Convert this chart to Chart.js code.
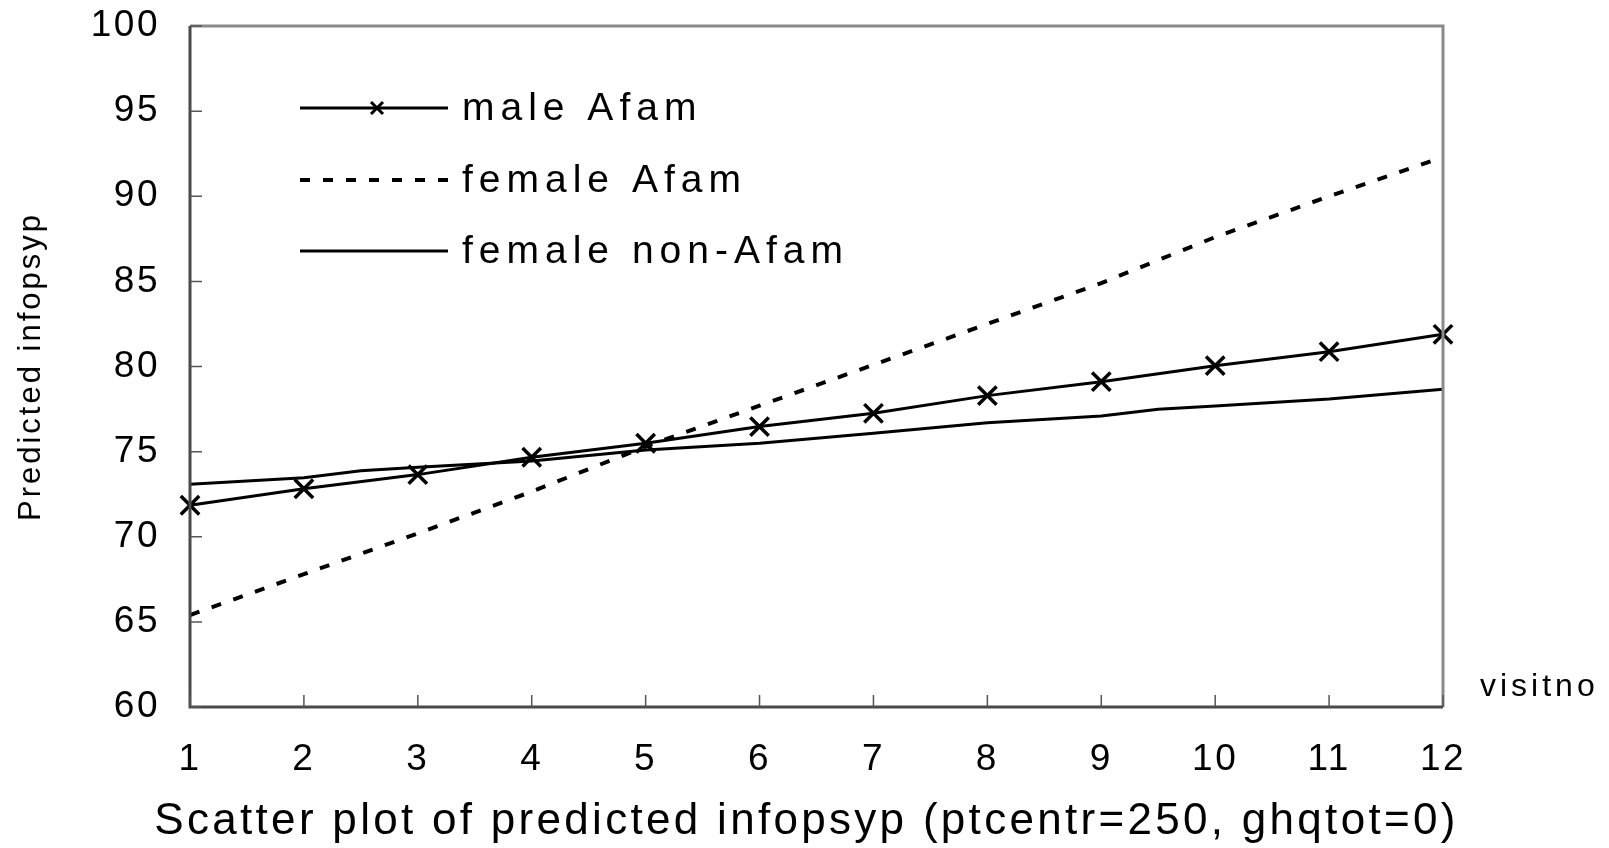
<!DOCTYPE html>
<html lang="en">
<head>
<meta charset="UTF-8">
<title>Predicted infopsyp</title>
<script src="https://cdn.jsdelivr.net/npm/chart.js"></script>
<style>
  html, body { margin: 0; padding: 0; background: #fff; }
  #wrap { width: 1609px; height: 848px; }
</style>
</head>
<body>
<div id="wrap"><canvas id="infopsypChart" width="1609" height="848"></canvas></div>
<script>
  // values
  const visits = [1, 2, 3, 4, 5, 6, 7, 8, 9, 10, 11, 12];
  const maleAfam = [71.85, 72.82, 73.65, 74.67, 75.49, 76.47, 77.25, 78.29, 79.11, 80.05, 80.87, 81.89];
  const femaleAfam = [65.4, 67.8, 70.2, 72.65, 75.3, 77.7, 80.1, 82.5, 84.9, 87.6, 90.0, 92.3];
  const nonAfamVisits = [1, 2, 2.5, 3, 4, 5, 6, 7, 8, 9, 9.5, 10, 11, 12];
  const femaleNonAfam = [73.08, 73.47, 73.88, 74.08, 74.45, 75.1, 75.49, 76.08, 76.7, 77.09, 77.49, 77.68, 78.09, 78.66];
  const yTicks = [60, 65, 70, 75, 80, 85, 90, 95, 100];
  const seriesNames = ['male Afam', 'female Afam', 'female non-Afam'];
  const xTitle = 'Scatter plot of predicted infopsyp (ptcentr=250, ghqtot=0)';
  const yTitle = 'Predicted infopsyp';

  const FONT = 'Arial, "Liberation Sans", sans-serif';

  function toPoints(xs, ys) {
    return xs.map((x, i) => ({ x: x, y: ys[i] }));
  }

  // frame, inward ticks, legend, titles and the "visitno" label
  const decorations = {
    id: 'decorations',
    beforeDraw(chart) {
      chart.ctx.letterSpacing = '2.5px';
    },
    afterDraw(chart) {
      const { ctx, chartArea: a, scales } = chart;
      ctx.save();
      ctx.lineWidth = 3;
      ctx.strokeStyle = '#8a8a8a';
      ctx.beginPath();
      ctx.moveTo(a.left, a.top); ctx.lineTo(a.right, a.top); ctx.lineTo(a.right, a.bottom);
      ctx.stroke();
      ctx.strokeStyle = '#4a4a4a';
      ctx.beginPath();
      ctx.moveTo(a.left, a.top); ctx.lineTo(a.left, a.bottom); ctx.lineTo(a.right, a.bottom);
      ctx.stroke();

      ctx.lineWidth = 1.5;
      ctx.strokeStyle = '#555';
      ctx.beginPath();
      yTicks.forEach(v => {
        const y = scales.y.getPixelForValue(v);
        ctx.moveTo(a.left, y); ctx.lineTo(a.left + 12, y);
      });
      visits.forEach(v => {
        const x = scales.x.getPixelForValue(v);
        ctx.moveTo(x, a.bottom); ctx.lineTo(x, a.bottom - 12);
      });
      ctx.stroke();

      // legend
      const lx0 = 300, lx1 = 448, tx = 462;
      const rows = [108, 180, 251];
      ctx.fillStyle = '#000';
      ctx.strokeStyle = '#000';
      ctx.font = '39px ' + FONT;
      ctx.letterSpacing = '6px';
      ctx.textBaseline = 'middle';
      ctx.textAlign = 'left';
      chart.data.datasets.forEach((ds, i) => {
        const y = rows[i];
        ctx.lineWidth = ds.borderWidth;
        ctx.setLineDash(ds.borderDash || []);
        ctx.beginPath(); ctx.moveTo(lx0, y); ctx.lineTo(lx1, y); ctx.stroke();
        ctx.setLineDash([]);
        if (ds.pointStyle === 'crossRot') {
          const cx = (lx0 + lx1) / 2 + 3, r = 6;
          ctx.lineWidth = 3;
          ctx.beginPath();
          ctx.moveTo(cx - r, y - r); ctx.lineTo(cx + r, y + r);
          ctx.moveTo(cx + r, y - r); ctx.lineTo(cx - r, y + r);
          ctx.stroke();
        }
        ctx.fillText(ds.label, tx, y + 1);
      });

      ctx.font = '32px ' + FONT;
      ctx.letterSpacing = '4px';
      ctx.fillText('visitno', a.right + 37, a.bottom - 20);

      // axis titles (drawn here so they are not squeezed to the plot width)
      ctx.textAlign = 'center';
      ctx.font = '44px ' + FONT;
      ctx.letterSpacing = '3.3px';
      ctx.fillText(xTitle, (a.left + a.right) / 2 - 10, 822);

      ctx.save();
      ctx.translate(31, (a.top + a.bottom) / 2);
      ctx.rotate(-Math.PI / 2);
      ctx.font = '31px ' + FONT;
      ctx.letterSpacing = '3px';
      ctx.fillText(yTitle, 0, 0);
      ctx.restore();

      ctx.restore();
    }
  };

  new Chart(document.getElementById('infopsypChart'), {
    type: 'line',
    data: {
      datasets: [
        {
          label: seriesNames[0],
          data: toPoints(visits, maleAfam),
          borderColor: '#000',
          borderWidth: 3,
          pointStyle: 'crossRot',
          pointRadius: 13,
          pointBorderWidth: 3.5,
          pointBorderColor: '#000',
          clip: false,
          tension: 0
        },
        {
          label: seriesNames[1],
          data: toPoints(visits, femaleAfam),
          borderColor: '#000',
          borderWidth: 4,
          borderDash: [10, 13],
          pointRadius: 0,
          tension: 0
        },
        {
          label: seriesNames[2],
          data: toPoints(nonAfamVisits, femaleNonAfam),
          borderColor: '#000',
          borderWidth: 3,
          pointRadius: 0,
          tension: 0
        }
      ]
    },
    options: {
      responsive: false,
      animation: false,
      devicePixelRatio: 1,
      layout: { padding: { left: 0, right: 166, top: 26, bottom: 0 } },
      plugins: { legend: { display: false }, tooltip: { enabled: false } },
      scales: {
        x: {
          type: 'linear',
          min: 1,
          max: 12,
          afterFit(scale) { scale.height = 141; scale.paddingTop = 0; scale.paddingBottom = 0; },
          afterBuildTicks(scale) { scale.ticks = visits.map(v => ({ value: v })); },
          grid: { display: false, drawTicks: false },
          border: { display: false },
          ticks: { color: '#000', font: { family: FONT, size: 37 }, padding: 31, maxRotation: 0 },
          title: { display: false }
        },
        y: {
          min: 60,
          max: 100,
          afterFit(scale) { scale.width = 190; scale.paddingTop = 0; scale.paddingBottom = 0; },
          afterBuildTicks(scale) { scale.ticks = yTicks.map(v => ({ value: v })); },
          grid: { display: false, drawTicks: false },
          border: { display: false },
          ticks: { color: '#000', font: { family: FONT, size: 37 }, padding: 30 },
          title: { display: false }
        }
      }
    },
    plugins: [decorations]
  });
</script>
</body>
</html>
